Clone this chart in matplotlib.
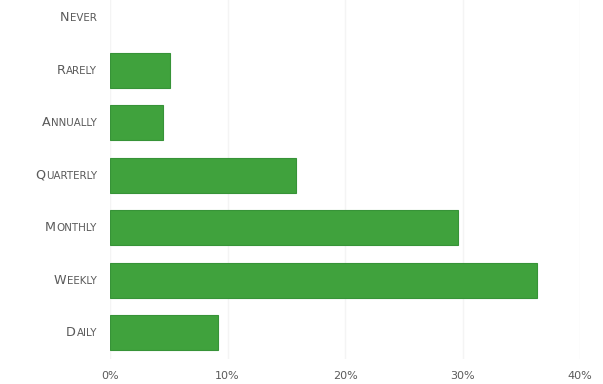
import matplotlib
matplotlib.use("Agg")
import matplotlib.pyplot as plt

categories = ["Daily", "Weekly", "Monthly", "Quarterly", "Annually", "Rarely", "Never"]
percent = [9.2, 36.3, 29.6, 15.8, 4.5, 5.1, 0.0]
xticks = [0, 10, 20, 30, 40]
xtick_labels = ["0%", "10%", "20%", "30%", "40%"]

text_color = "#5a5a5a"
bar_color = "#40a23d"

fig = plt.figure(figsize=(6.03, 3.84), dpi=100)
ax = fig.add_axes([110 / 603, 25 / 384, 470 / 603, 359 / 384])

ypos = list(range(len(categories)))
ax.barh(ypos, percent, height=0.67, color=bar_color, edgecolor="#379338",
        linewidth=[0.8 if p > 0 else 0 for p in percent], zorder=3)

ax.set_xlim(0, 40)
ax.set_ylim(-0.5, 6.34)
ax.set_xticks(xticks)
ax.set_xticklabels([])
ax.set_yticks(ypos)
ax.set_yticklabels([])
ax.tick_params(length=0)
for s in ax.spines.values():
    s.set_visible(False)
ax.grid(axis="x", color="#f4f4f4", linewidth=1, zorder=0)

fig.canvas.draw()
renderer = fig.canvas.get_renderer()

# small caps labels: big first letter, rest upper case and smaller
for y, name in zip(ypos, categories):
    rest = ax.annotate(name[1:].upper(), xy=(0, y), xytext=(-13, -3.5),
                       textcoords="offset pixels", ha="right", va="baseline",
                       fontsize=7.4, color=text_color, family="DejaVu Sans")
    bb = rest.get_window_extent(renderer)
    ax.annotate(name[0], xy=(0, y), xytext=(-13 - bb.width - 0.5, -3.5),
                textcoords="offset pixels", ha="right", va="baseline",
                fontsize=9.2, color=text_color, family="DejaVu Sans")

for x, lab in zip(xticks, xtick_labels):
    ax.annotate(lab, xy=(x, -0.5), xytext=(0, -17), textcoords="offset pixels",
                ha="center", va="center", fontsize=8, color=text_color,
                family="DejaVu Sans", annotation_clip=False)

fig.savefig("out.png", dpi=100, facecolor="white")
